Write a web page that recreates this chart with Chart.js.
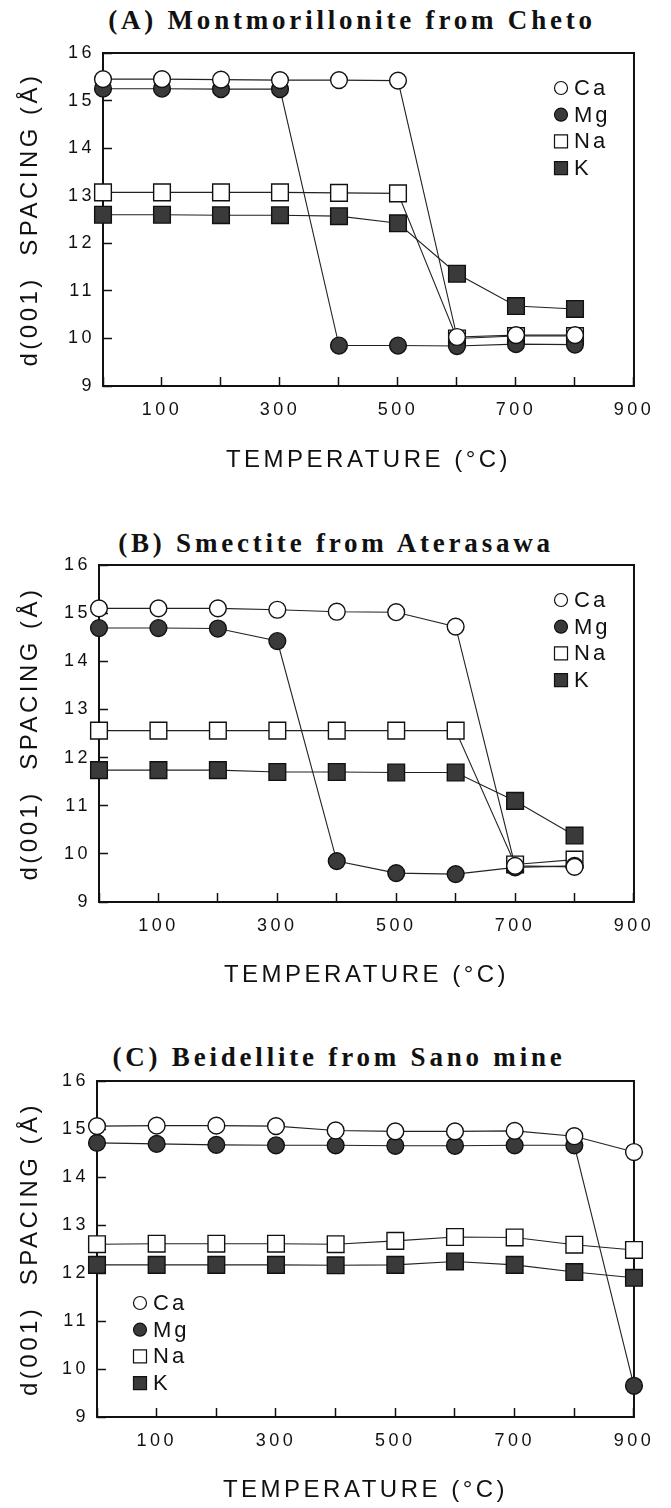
<!DOCTYPE html>
<html lang="en">
<head>
<meta charset="UTF-8">
<title>d(001) spacing vs heating temperature</title>
<script src="https://cdn.jsdelivr.net/npm/chart.js"></script>
<style>
  body { margin: 0; background: #fff; width: 671px; height: 1508px; position: relative; overflow: hidden; }
  .title { position: absolute; margin: 0; width: 600px; text-align: center; font: bold 27px "Liberation Serif", serif; line-height: 30px; letter-spacing: 3.8px; color: #111; white-space: nowrap; }
  canvas { position: absolute; left: 0; }
</style>
</head>
<body>
<script>
  // heating temperatures (°C)
  const temps = [0, 100, 200, 300, 400, 500, 600, 700, 800];
  const tempsSano = [0, 100, 200, 300, 400, 500, 600, 700, 800, 900];
  const xTickLabels = [100, 300, 500, 700, 900];
  const ions = ['Ca', 'Mg', 'Na', 'K'];

  // (A) Montmorillonite from Cheto, d(001) in Å
  const chetoCa = [15.45, 15.45, 15.44, 15.43, 15.43, 15.42, 10.03, 10.07, 10.07];
  const chetoMg = [15.25, 15.25, 15.24, 15.24, 9.85, 9.85, 9.84, 9.88, 9.87];
  const chetoNa = [13.07, 13.07, 13.07, 13.07, 13.06, 13.05, 10.0, 10.05, 10.05];
  const chetoK = [12.6, 12.6, 12.59, 12.59, 12.57, 12.42, 11.36, 10.68, 10.62];

  // (B) Smectite from Aterasawa
  const aterasawaCa = [15.1, 15.1, 15.1, 15.07, 15.03, 15.02, 14.72, 9.75, 9.73];
  const aterasawaMg = [14.69, 14.69, 14.68, 14.42, 9.85, 9.6, 9.58, 9.72, 9.75];
  const aterasawaNa = [12.56, 12.56, 12.56, 12.56, 12.56, 12.56, 12.56, 9.78, 9.88];
  const aterasawaK = [11.74, 11.74, 11.74, 11.7, 11.7, 11.69, 11.69, 11.1, 10.38];

  // (C) Beidellite from Sano mine
  const sanoCa = [15.06, 15.07, 15.07, 15.06, 14.97, 14.95, 14.95, 14.96, 14.85, 14.52];
  const sanoMg = [14.71, 14.69, 14.67, 14.66, 14.66, 14.65, 14.65, 14.66, 14.66, 9.65];
  const sanoNa = [12.6, 12.61, 12.61, 12.61, 12.6, 12.67, 12.75, 12.74, 12.59, 12.48];
  const sanoK = [12.17, 12.17, 12.17, 12.17, 12.16, 12.17, 12.24, 12.17, 12.02, 11.9];

  const ionStyle = {
    Ca: { shape: 'circle', fill: '#ffffff' },
    Mg: { shape: 'circle', fill: '#3a3a3a' },
    Na: { shape: 'rect', fill: '#ffffff' },
    K: { shape: 'rect', fill: '#3a3a3a' }
  };

  const panels = [
    { title: '(A) Montmorillonite from Cheto', x: temps, series: [chetoCa, chetoMg, chetoNa, chetoK],
      top: 0, height: 481, left: 103, right: 645, plotH: 333, titleX: 352, titleY: 20, xTitlePad: 6,
      legend: { x: 458, y: 35 } },
    { title: '(B) Smectite from Aterasawa', x: temps, series: [aterasawaCa, aterasawaMg, aterasawaNa, aterasawaK],
      top: 512, height: 485, left: 99, right: 645, plotH: 337, titleX: 336, titleY: 31, xTitlePad: 7,
      legend: { x: 462, y: 35 } },
    { title: '(C) Beidellite from Sano mine', x: tempsSano, series: [sanoCa, sanoMg, sanoNa, sanoK],
      top: 1028, height: 480, left: 97, right: 641, plotH: 336, titleX: 339, titleY: 29, xTitlePad: 3,
      legend: { x: 43, y: 222 } }
  ];

  const AREA_TOP = 53;
  const FONT = '"Liberation Sans", Arial, sans-serif';

  // box around the plot area
  const framePlugin = {
    id: 'frame',
    beforeDatasetsDraw(chart) {
      const { ctx, chartArea: a } = chart;
      ctx.save();
      ctx.strokeStyle = '#111';
      ctx.lineWidth = 2;
      ctx.strokeRect(a.left, a.top, a.right - a.left, a.bottom - a.top);
      ctx.restore();
    }
  };

  // wide tracking for the typewriter-like lettering
  const spacingPlugin = {
    id: 'spacing',
    beforeDraw(chart) { chart.ctx.letterSpacing = '3.5px'; }
  };

  // key drawn inside the plot box
  const keyPlugin = {
    id: 'key',
    afterDraw(chart, args, opts) {
      const { ctx, chartArea: a } = chart;
      ctx.save();
      ctx.font = '22px ' + FONT;
      ctx.letterSpacing = '3px';
      ctx.textBaseline = 'middle';
      chart.data.datasets.forEach((ds, i) => {
        const cx = a.left + opts.x;
        const cy = a.top + opts.y + i * 26.7;
        const st = ionStyle[ds.label];
        ctx.beginPath();
        if (st.shape === 'circle') ctx.arc(cx, cy, 6.5, 0, Math.PI * 2);
        else ctx.rect(cx - 6.5, cy - 6.5, 13, 13);
        ctx.fillStyle = st.fill;
        ctx.fill();
        ctx.lineWidth = 1.2;
        ctx.strokeStyle = '#111';
        ctx.stroke();
        ctx.fillStyle = '#111';
        ctx.fillText(ds.label, cx + 13, cy + 1);
      });
      ctx.restore();
    }
  };

  panels.forEach(p => {
    const h = document.createElement('div');
    h.className = 'title';
    h.textContent = p.title;
    h.style.top = (p.top + p.titleY - 15) + 'px';
    h.style.left = (p.titleX - 300) + 'px';
    document.body.appendChild(h);

    const canvas = document.createElement('canvas');
    canvas.width = 671;
    canvas.height = p.height;
    canvas.style.top = p.top + 'px';
    document.body.appendChild(canvas);

    const datasets = ions.map((ion, i) => {
      const st = ionStyle[ion];
      return {
        label: ion,
        data: p.x.map((t, j) => ({ x: t, y: p.series[i][j] })),
        borderColor: '#222',
        borderWidth: 1.1,
        pointStyle: st.shape,
        pointRadius: st.shape === 'circle' ? 8.4 : 11.8,
        pointBackgroundColor: st.fill,
        pointBorderColor: '#111',
        pointBorderWidth: 1.4,
        tension: 0,
        clip: false
      };
    });

    new Chart(canvas.getContext('2d'), {
      type: 'line',
      data: { datasets },
      options: {
        responsive: false,
        animation: false,
        devicePixelRatio: 1,
        layout: { padding: { top: AREA_TOP, left: 0, right: 671 - p.right, bottom: 0 } },
        plugins: {
          legend: { display: false },
          tooltip: { enabled: false },
          key: p.legend
        },
        scales: {
          x: {
            type: 'linear',
            min: 0,
            max: 900,
            border: { display: false },
            grid: { drawOnChartArea: false, drawTicks: true, tickLength: -9, tickWidth: 1.5, tickColor: '#111' },
            ticks: {
              stepSize: 100,
              autoSkip: false,
              maxRotation: 0,
              padding: 22,
              color: '#111',
              font: { family: FONT, size: 18 },
              callback: v => xTickLabels.includes(v) ? String(v) : ''
            },
            title: {
              display: true,
              text: 'TEMPERATURE (°C)',
              color: '#111',
              font: { family: FONT, size: 24 },
              padding: { top: 0, bottom: p.xTitlePad }
            },
            afterFit(scale) { scale.height = p.height - AREA_TOP - p.plotH; }
          },
          y: {
            min: 9,
            max: 16,
            border: { display: false },
            grid: { drawOnChartArea: false, drawTicks: true, tickLength: -9, tickWidth: 1.5, tickColor: '#111' },
            ticks: {
              stepSize: 1,
              padding: 17,
              color: '#111',
              font: { family: FONT, size: 18 }
            },
            title: {
              display: true,
              text: 'd(001)  SPACING (Å)',
              color: '#111',
              font: { family: FONT, size: 24 },
              padding: { top: 16, bottom: 0 }
            },
            afterFit(scale) { scale.width = p.left; }
          }
        }
      },
      plugins: [spacingPlugin, framePlugin, keyPlugin]
    });
  });
</script>
</body>
</html>
